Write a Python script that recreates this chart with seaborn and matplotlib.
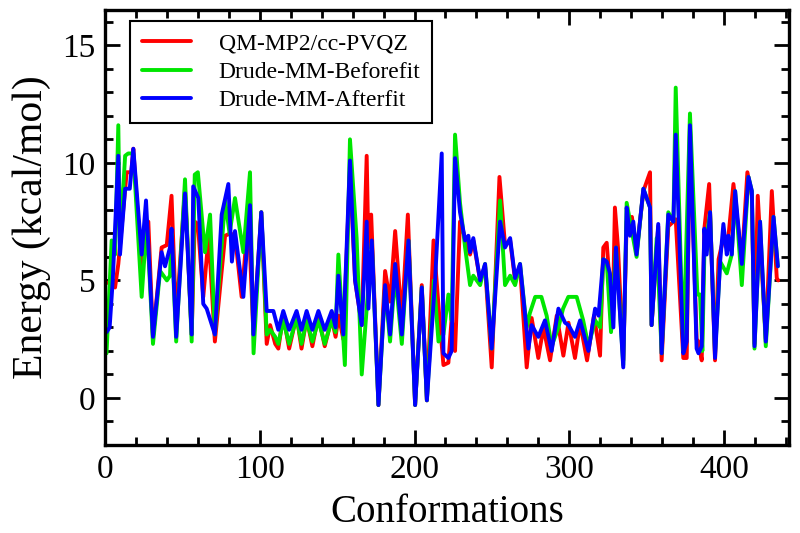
import numpy as np
import pandas as pd
import matplotlib
matplotlib.use("Agg")
import matplotlib.pyplot as plt
from matplotlib.ticker import MultipleLocator
from matplotlib.lines import Line2D
import seaborn as sns

series_names = ["QM-MP2/cc-PVQZ", "Drude-MM-Beforefit", "Drude-MM-Afterfit"]
series_colors = ["#ff0000", "#00e600", "#0000ff"]

qm_x = [1, 3, 6.5, 8.6, 14, 17, 18.3, 23.7, 28, 31, 36.6, 39.9, 43, 46, 51.7,
        56, 58, 60, 63.5, 67, 71, 77.6, 81, 84, 88.3, 92.7, 95.9, 101, 104.5, 106.7,
        110, 112, 115.2, 119, 123.8, 127, 130.3, 134, 137.9, 142, 146.5, 149, 151, 154,
        158.3, 161.6, 165.9, 169.1, 170.2, 172, 176.7, 181, 184.2, 187.5, 191.8, 195.7,
        200.4, 204.7, 208, 212.3, 216, 218.7, 221.9, 224, 226.2, 229.4, 232.7, 235.9,
        238, 242.4, 245.6, 249.9, 254.9, 258.5, 261.8, 265, 268.2, 272.5, 275.7, 280,
        283.3, 287.6, 291.9, 296.2, 299.5, 303.7, 307, 311.5, 316, 319.9, 322, 324.2,
        328, 329.5, 331.5, 334.9, 337.1, 340.5, 343.5, 347.9, 352.2, 353.2, 357.5, 359.7,
        364, 367.3, 368.8, 373.7, 375.9, 378, 382.3, 383.5, 385.6, 387.3, 390.4, 394.2,
        396.5, 399.6, 402.9, 406.1, 411.5, 415.1, 418, 419.7, 421.8, 427, 430.9, 434.1, 435]
qm_y = [4.9, 4.9, 4.7, 5.7, 9.6, 9.6, 10.6, 5.3, 7.5, 2.6, 6.4, 6.5, 8.6, 3.3, 8.9,
        2.7, 7.5, 7.4, 4.3, 6.9, 2.4, 6.9, 7.0, 6.9, 4.3, 7.8, 2.7, 7.9, 2.3, 3.1,
        2.3, 2.1, 3.5, 2.1, 3.5, 2.1, 3.4, 2.2, 3.5, 2.2, 3.4, 2.6, 3.5, 2.5,
        9.7, 5.0, 3.1, 10.3, 6.4, 7.8, -0.3, 5.4, 4.1, 7.1, 3.3, 7.8,
        -0.3, 4.8, -0.1, 6.7, 3.5, 1.4, 1.5, 3.4, 2.0, 7.5, 6.8, 6.1,
        6.7, 5.0, 5.6, 1.3, 9.4, 6.5, 6.7, 5.0, 5.6, 1.3, 3.4, 1.7,
        3.0, 1.6, 3.5, 1.8, 3.2, 1.7, 3.2, 1.6, 3.5, 1.8, 6.4, 6.6,
        3.2, 8.1, 6.4, 1.6, 7.5, 7.7, 6.2, 8.8, 9.6, 3.1, 7.3, 1.6,
        7.3, 7.5, 7.6, 1.7, 1.7, 11.5, 2.5, 2.4, 1.6, 7.2, 9.1, 1.6,
        5.9, 6.8, 6.9, 9.1, 5.8, 9.6, 8.6, 2.3, 8.6, 2.5, 8.8, 5.1, 5.0]

before_x = [1, 4.3, 6.5, 8.6, 9.7, 13, 15, 18.3, 23.7, 27, 31, 35.6, 40, 42, 43, 46, 51.7,
            56, 58, 60, 64.6, 67.9, 71, 77.6, 80.5, 84, 89.4, 93.7, 96, 101, 104.5, 106.7,
            110, 112, 115.2, 119, 123.8, 127, 130.3, 134, 137.9, 142, 146.5, 149, 150.8, 155,
            158.3, 162.6, 165.9, 169.1, 172.4, 176.7, 181, 184.2, 187.5, 191.8, 196.1, 200.4,
            204.7, 208, 212.5, 215.5, 218.7, 221.9, 224, 226.2, 229.4, 232.7, 235.9, 238,
            242.4, 245.6, 249.9, 255.3, 258.5, 261.8, 265, 268.2, 272.5, 274.5, 278, 282,
            285.4, 288.6, 293, 296, 299.4, 304.8, 309, 312.4, 316.7, 320, 322, 324.2, 327,
            330.2, 334.9, 337.1, 343.5, 347.9, 352.2, 353.2, 356.5, 359.7, 364, 367.3, 368.8,
            373.7, 378, 382.8, 384.5, 386, 387.3, 391, 394.2, 397.5, 401.8, 405, 407.2, 411.5,
            415.8, 418, 419.7, 423.3, 427, 432, 434.8]
before_y = [1.9, 6.7, 6.1, 11.6, 6.5, 10.3, 10.4, 10.4, 4.3, 7.5, 2.3, 5.4, 5.0, 5.2, 7.0, 2.4, 9.3,
            2.4, 9.5, 9.6, 6.2, 7.8, 2.7, 8.4, 7.0, 8.5, 6.2, 9.6, 1.9, 7.9, 2.7, 2.9,
            2.6, 2.3, 3.3, 2.3, 3.4, 2.3, 3.3, 2.4, 3.3, 2.3, 3.3, 2.8, 6.1, 1.4,
            11.0, 6.8, 1.0, 3.8, 6.6, -0.3, 4.7, 2.4, 5.3, 2.3, 6.7, -0.3,
            4.7, -0.1, 5.0, 2.4, 2.7, 4.4, 3.3, 11.2, 8.3, 6.4, 4.8, 5.2,
            4.8, 5.7, 2.1, 8.4, 4.8, 5.2, 4.8, 5.7, 3.0, 3.6, 4.3, 4.3,
            3.5, 2.2, 3.0, 3.8, 4.3, 4.3, 3.3, 2.2, 3.3, 3.0, 5.9, 5.8, 2.8,
            6.4, 1.4, 8.3, 6.0, 8.9, 8.1, 3.1, 6.8, 1.9, 7.9, 7.5, 13.2,
            2.0, 12.1, 4.4, 4.4, 2.0, 6.1, 7.9, 1.9, 5.8, 5.3, 6.1, 8.8, 4.8,
            9.4, 8.8, 2.1, 7.5, 2.2, 7.7, 5.6]

after_x = [1, 3, 5, 8.6, 9.7, 13, 16, 18.3, 23.7, 26.5, 31, 36.6, 38.8, 42, 43, 46, 51.7,
           56, 57, 60.3, 63.5, 65.7, 71, 75.4, 79.7, 82, 84, 89.4, 93.7, 95.9, 101, 104.5,
           106.7, 108.8, 112, 115.2, 119, 123.8, 127, 130.3, 134, 137.9, 142, 146.5, 149,
           150.8, 154, 158.3, 161.6, 165.9, 169.1, 170.2, 172.4, 176.7, 181, 184.2, 187.5,
           191.8, 196.1, 200.4, 204.7, 208, 213.3, 217.6, 218.7, 221.9, 224, 226.2, 229.4,
           232.7, 234.8, 235.9, 238, 242.4, 245.6, 249.9, 255.3, 258.5, 261.8, 265, 268.2,
           273.6, 275.7, 280, 284.3, 288.6, 293, 297.3, 299.5, 303.7, 307, 312.4, 316.7,
           318.9, 322, 324.2, 326.3, 328.5, 330.2, 334.9, 337.1, 339.2, 341.4, 343.5, 347.9,
           352.2, 353.2, 357.5, 359.7, 364, 367.3, 368.8, 373.7, 375.9, 378, 382.3, 383.5,
           385.6, 387.3, 388.8, 391, 394.2, 397.5, 399.6, 401.8, 402.9, 405, 407.2, 411.5,
           415.8, 418, 419.7, 423.3, 427, 432, 434.8]
after_y = [2.8, 3.0, 5.0, 10.3, 6.1, 8.9, 8.9, 10.6, 6.1, 8.4, 2.6, 6.2, 5.6, 6.4, 7.2, 2.6, 8.7,
           2.7, 9.0, 8.5, 4.0, 3.8, 2.7, 7.8, 9.1, 5.8, 7.1, 4.3, 8.2, 2.7, 7.9, 3.7,
           3.7, 3.7, 2.9, 3.7, 2.9, 3.7, 2.9, 3.7, 2.9, 3.7, 2.9, 3.7, 3.0,
           5.2, 2.7, 10.1, 5.0, 3.1, 7.5, 3.8, 6.7, -0.3, 4.8, 2.7, 5.7,
           2.7, 6.7, -0.3, 4.7, -0.1, 5.0, 10.4, 1.9, 1.7, 2.0, 10.2, 7.9,
           6.7, 6.9, 6.2, 6.8, 5.0, 5.7, 2.1, 7.5, 6.4, 6.8, 5.1, 5.7,
           2.1, 3.1, 2.6, 3.3, 2.0, 3.8, 3.2, 3.1, 2.6, 3.3, 2.0, 3.8,
           3.5, 5.9, 5.8, 5.3, 3.0, 6.4, 1.3, 8.1, 6.9, 7.5, 6.1, 8.9,
           8.1, 3.1, 7.4, 1.9, 7.8, 7.5, 11.2, 1.9, 2.4, 11.6, 2.1, 1.9,
           2.2, 7.2, 6.1, 7.9, 1.7, 5.8, 7.4, 6.1, 6.9, 6.1, 8.8, 5.7,
           9.4, 8.8, 2.2, 7.5, 2.4, 7.7, 5.6]

xs = [qm_x, before_x, after_x]
ys = [qm_y, before_y, after_y]
frames = []
for name, x, y in zip(series_names, xs, ys):
    frames.append(pd.DataFrame({"Conformation": x, "Energy": y, "series": name}))
df = pd.concat(frames, ignore_index=True)

sns.set_style("ticks")
plt.rcParams["font.family"] = ["Liberation Serif", "DejaVu Serif"]
plt.rcParams["text.color"] = "black"
plt.rcParams["axes.labelcolor"] = "black"
plt.rcParams["xtick.color"] = "black"
plt.rcParams["ytick.color"] = "black"

fig = plt.figure(figsize=(8, 5.33), dpi=100)
ax = fig.add_axes([0.13125, 0.1651, 0.855, 0.8161])

sns.lineplot(data=df, x="Conformation", y="Energy", hue="series",
             hue_order=series_names, palette=dict(zip(series_names, series_colors)),
             estimator=None, sort=False, linewidth=2.8, ax=ax, legend=False)

ax.set_xlim(0, 442)
ax.set_ylim(-2, 16.5)
ax.xaxis.set_major_locator(MultipleLocator(100))
ax.xaxis.set_minor_locator(MultipleLocator(20))
ax.yaxis.set_major_locator(MultipleLocator(5))
ax.yaxis.set_minor_locator(MultipleLocator(1))
ax.tick_params(which="both", direction="in", top=True, right=True, width=2.0,
               labelsize=24, colors="black")
ax.tick_params(which="major", length=10.5, pad=7)
ax.tick_params(which="minor", length=6)
for sp in ax.spines.values():
    sp.set_linewidth(2.4)
    sp.set_color("black")

ax.set_xlabel("Conformations", fontsize=28, labelpad=6)
ax.set_ylabel("Energy (kcal/mol)", fontsize=30, labelpad=8)

handles = [Line2D([0], [0], color=c, lw=2.8) for c in series_colors]
leg = ax.legend(handles, series_names, loc="upper left", bbox_to_anchor=(0.0365, 0.975),
                borderaxespad=0, fontsize=17, handlelength=2.1, handletextpad=1.15,
                labelspacing=0.3, borderpad=0.5, fancybox=False, frameon=True)
leg.get_frame().set_edgecolor("black")
leg.get_frame().set_linewidth(1.5)
leg.get_frame().set_alpha(1)

fig.savefig("out.png", dpi=100)
